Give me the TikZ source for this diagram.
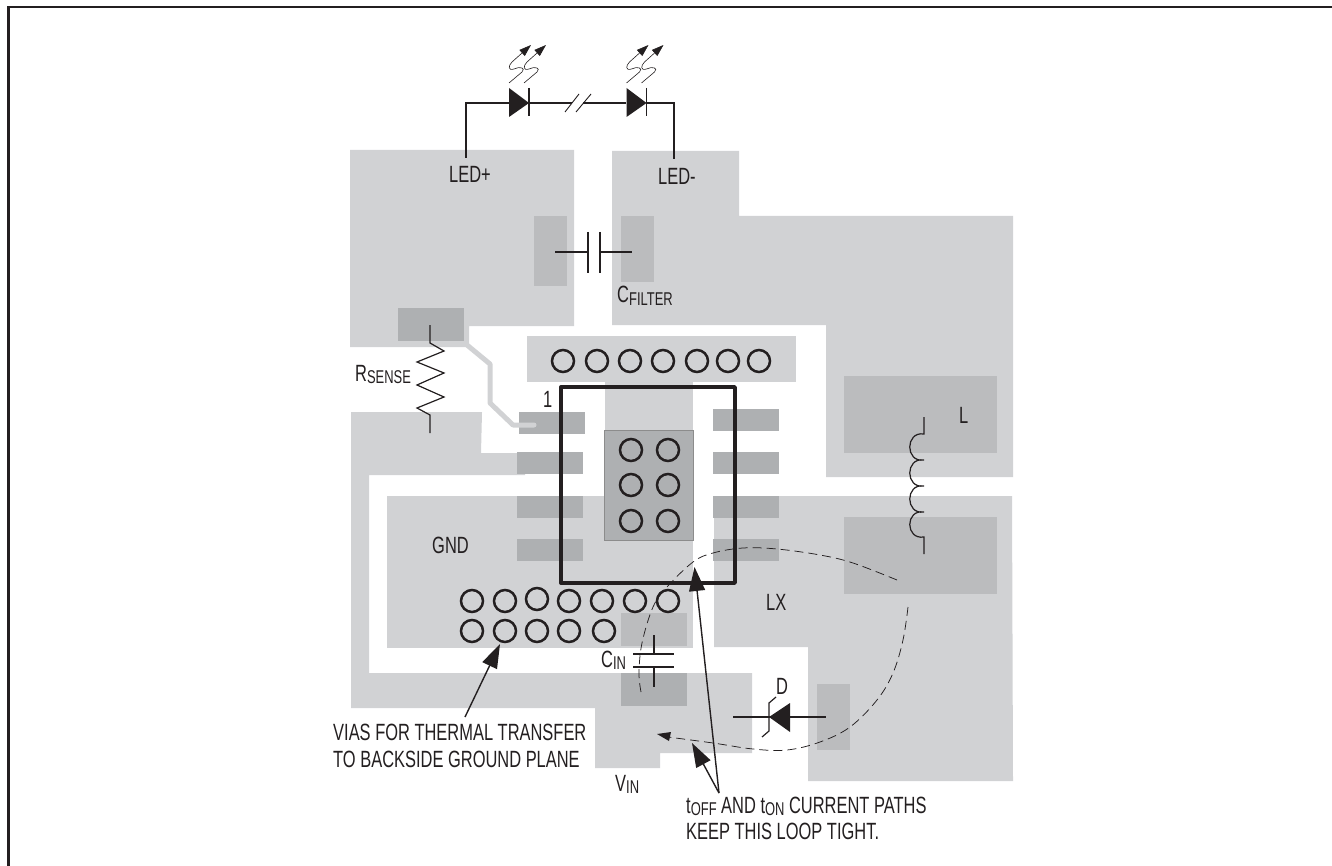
\documentclass[tikz,border=0pt]{standalone}
\usepackage{fontspec}
\setmainfont{Liberation Sans}[FakeStretch=0.70]
\usetikzlibrary{arrows.meta}
\definecolor{cu}{HTML}{D1D2D4}
\definecolor{padm}{HTML}{BBBCBE}
\definecolor{padd}{HTML}{AEB0B2}
\definecolor{ink}{HTML}{231F20}
\newcommand{\smtxt}[1]{\raisebox{-2.5pt}{\fontsize{18.5}{20}\selectfont #1}}
\tikzset{
  x=1pt,y=-1pt,
  wire/.style={draw=ink,line width=1.2pt,line cap=butt},
  thinwire/.style={draw=ink,line width=0.9pt},
  via/.style={circle,draw=ink,line width=2.5pt,minimum size=22pt,inner sep=0pt},
  lbl/.style={anchor=base west,inner sep=0pt,text=ink,font=\fontsize{23.5}{26}\selectfont},
  bigarrow/.style={draw=ink,line width=1.4pt,-{Triangle[length=24pt,width=16pt]},fill=ink},
  loopdash/.style={draw=ink,line width=0.75pt,dash pattern=on 9pt off 5pt},
}
\begin{document}
\begin{tikzpicture}
\useasboundingbox (0,0) rectangle (1332,866);
\clip (0,0) rectangle (1332,866);
% frame
\draw[draw=ink,line width=2.5pt] (8.5,866) -- (8.5,7) -- (1332,7);
% copper
\fill[cu] (350,150) -- (574,150) -- (574,326) -- (469,326) -- (469,347) -- (350,347) -- cycle;
\fill[cu] (612,151) -- (739,151) -- (739,216) -- (1013,216) -- (1013,477) -- (826,477) -- (826,325) -- (612,325) -- cycle;
\fill[cu] (527,336) rectangle (796,382);
\fill[cu] (605,382) rectangle (693,432);
\fill[cu] (387,496) rectangle (693,648);
\fill[cu] (351,412) -- (482,412) -- (481,453) -- (525,453) -- (525,475) -- (369,475) -- (369,673) -- (752,673) -- (752,753) -- (660,753) -- (660,768) -- (595,768) -- (595,708) -- (351,708) -- cycle;
\fill[cu] (714,496) -- (1012,496) -- (1013,781) -- (808,781) -- (808,647) -- (714,647) -- cycle;
% component pads
\fill[padm] (534,216) rectangle (567,286);
\fill[padm] (621,216) rectangle (654,282);
\fill[padd] (398,308) rectangle (464,341);
\fill[padm] (844,376) rectangle (997,453);
\fill[padm] (844,517) rectangle (997,594);
\fill[padm] (817,684) rectangle (850,750);
\fill[padm] (621,613) rectangle (687,646);
\fill[padd] (621,673) rectangle (687,706);
% IC pins
\fill[padd] (519,412) rectangle (585,434);
\fill[padd] (517,452) rectangle (583,474);
\fill[padd] (517,496) rectangle (583,518);
\fill[padd] (517,539) rectangle (583,561);
\fill[padd] (713,409) rectangle (779,431);
\fill[padd] (713,452) rectangle (779,474);
\fill[padd] (713,496) rectangle (779,518);
\fill[padd] (713,539) rectangle (779,561);
% thermal pad
\fill[padd] (604,430) rectangle (693,540);
\draw[draw=gray!90,line width=0.4pt] (604,430) rectangle (693,540);
% sense trace
\draw[draw=cu,line width=5pt,line cap=round,line join=round] (467,345) -- (490,364) -- (490,403) -- (513,425) -- (534,425);
% IC outline
\draw[draw=ink,line width=3.4pt,line join=round] (561,387) rectangle (735,583);
% vias
\foreach \n/\xx in {1/563,2/597,3/630,4/663,5/697,6/728,7/759}{\node[via] (t\n) at (\xx,361) {};}
\foreach \n/\xx/\yy in {1/631/450,2/668/450,3/631/485,4/668/485,5/631/521,6/668/521}{\node[via] (p\n) at (\xx,\yy) {};}
\foreach \n/\xx/\yy in {1/472/601,2/505/601,3/537/599,4/569/601,5/602/601,6/635/601,7/668/601}{\node[via] (a\n) at (\xx,\yy) {};}
\foreach \n/\xx in {1/472,2/505,3/537,4/569,5/604}{\node[via] (b\n) at (\xx,631) {};}
% LED string
\coordinate (lp) at (466,158);
\coordinate (lm) at (674,159);
\coordinate (d1a) at (509,103);
\coordinate (d1k) at (529,103);
\coordinate (d2a) at (626,103);
\coordinate (d2k) at (647,103);
\draw[wire] (lp) |- (d1a);
\draw[wire] (d1k) -- (572,103);
\draw[wire] (583,103) -- (d2a);
\draw[wire] (lm) |- (d2k);
\draw[thinwire] (565,112) -- (579,94) (576,112) -- (591,94);
\foreach \dx in {0,117.5}{
  \begin{scope}[xshift=\dx pt]
  \fill[ink] (509,88) -- (509,117) -- (529,103) -- cycle;
  \draw[wire] (529,88) -- (529,116);
  \foreach \sx in {0,15}{
    \draw[draw=ink,line width=0.6pt,-{Triangle[length=12pt,width=8pt]}]
      (509+\sx,83) -- (522+\sx,72) .. controls (526+\sx,68) and (520+\sx,66) .. (514+\sx,69)
      .. controls (508+\sx,71) and (508+\sx,66) .. (512+\sx,62) -- (531+\sx,45);
  }
  \end{scope}
}
% R sense
\draw[wire,line join=miter] (430,325) -- (430,343) -- (444,351) -- (417,362) -- (444,373) -- (417,385) -- (444,397) -- (417,408) -- (430,415) -- (430,433);
% C filter
\draw[wire] (555,252) -- (588,252) (588,232) -- (588,273) (600,232) -- (600,273) (600,252) -- (632,252);
% C in
\draw[wire] (654,635) -- (654,654) (633,654) -- (674,654) (633,667) -- (674,667) (654,667) -- (654,687);
% inductor
\draw[wire] (924,417) -- (924,434)
  .. controls (905,431) and (905,463) .. (924,460)
  .. controls (905,457) and (905,489) .. (924,486)
  .. controls (905,483) and (905,515) .. (924,512)
  .. controls (905,509) and (905,540) .. (924,537) -- (924,554);
% diode D
\draw[wire] (733,717) -- (826,717);
\fill[ink] (769,717) -- (790,703) -- (790,732) -- cycle;
\draw[wire] (776,697) -- (769,703) -- (769,731) -- (762,737);
% current loop
\draw[loopdash] plot[smooth,tension=0.6] coordinates {(897,580) (853,563) (820,555) (777,549) (743,548) (713,553) (693,562) (667,587) (653,607) (642,643) (639,673) (641,692)};
\coordinate (tipa) at (657,734);
\draw[loopdash] plot[smooth,tension=0.6] coordinates {(908,607) (903,640) (893,673) (877,700) (850,727) (820,742) (787,750) (753,749) (713,743) (668,737)};
\fill[ink] (tipa) -- (671,732) -- (669,741) -- cycle;
% labels
\node[lbl] (ledp) at (449,183) {LED+};
\node[lbl] (ledm) at (658,185) {LED-};
\node[lbl] (cf) at (617,303) {C\smtxt{FILTER}};
\node[lbl] (rs) at (355,381) {R\smtxt{SENSE}};
\node[lbl] (pin) at (543,407) {1};
\node[lbl] (gnd) at (432,553) {GND};
\node[lbl] (lbll) at (959,423) {L};
\node[lbl] (lx) at (766,610) {LX};
\node[lbl] (dd) at (776,694) {D};
\node[lbl] (cin) at (601,667) {C\smtxt{IN}};
\node[lbl] (vin) at (615,791) {V\smtxt{IN}};
\node[lbl] (vias1) at (333,740) {VIAS FOR THERMAL TRANSFER};
\node[lbl] (vias2) at (333,767) {TO BACKSIDE GROUND PLANE};
\node[lbl] (cur1) at (686,813) {t\smtxt{OFF} AND t\smtxt{ON} CURRENT PATHS};
\node[lbl] (cur2) at (686,839) {KEEP THIS LOOP TIGHT.};
% leaders
\coordinate (viastart) at (465,717);
\coordinate (viatip) at (500,644);
\coordinate (curstart) at (719,793);
\coordinate (ictip) at (694.5,567);
\coordinate (looptip) at (692,743);
\draw[bigarrow] (viastart) -- (viatip);
\draw[bigarrow] (curstart) -- (ictip);
\draw[bigarrow] (curstart) -- (looptip);
\end{tikzpicture}
\end{document}
